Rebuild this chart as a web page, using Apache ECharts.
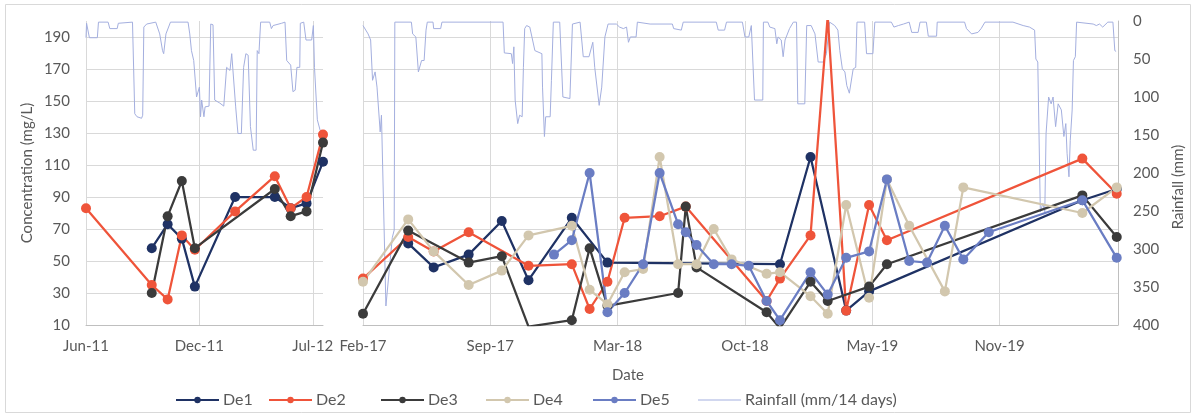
<!DOCTYPE html>
<html>
<head>
<meta charset="utf-8">
<script src="https://cdn.jsdelivr.net/npm/echarts@6/dist/echarts.min.js"></script>
<style>
  html, body { margin: 0; padding: 0; background: #ffffff; }
  #chart { width: 1195px; height: 416px; }
</style>
</head>
<body>
<div id="chart"></div>
<script>
// ---- Sampling campaign 1 (2011-2012) ----
const early_origin = '2011-06-10';
const early_dates = ['2011-06-10', '2011-10-04', '2011-11-01', '2011-11-26', '2011-12-19',
                     '2012-02-28', '2012-05-08', '2012-06-05', '2012-07-03', '2012-08-01'];
const early_De1 = [null, 58, 73, 64, 34, 90, 90, 83, 86, 112];
const early_De2 = [83, 35, 26, 66, 57, 81, 103, 83, 90, 129];
const early_De3 = [null, 30, 78, 100, 58, null, 95, 78, 81, 124];
const early_end = '2012-08-01';

// ---- Sampling campaign 2 (2017-2020) ----
const late_origin = '2017-02-22';
const late_dates = ['2017-02-22', '2017-05-04', '2017-06-13', '2017-08-07', '2017-09-28', '2017-11-09',
                    '2017-12-19', '2018-01-16', '2018-02-13', '2018-03-13', '2018-04-09', '2018-05-08',
                    '2018-06-03', '2018-07-02', '2018-07-14', '2018-07-31', '2018-08-27', '2018-09-24',
                    '2018-10-21', '2018-11-18', '2018-12-09', '2019-01-26', '2019-02-22', '2019-03-23',
                    '2019-04-28', '2019-05-26', '2019-06-30', '2019-07-28', '2019-08-25', '2019-09-23',
                    '2019-11-02', '2020-03-28', '2020-05-21'];
const late_De1 = [null, 61, 46, 54, 75, 38, null, 77, null, 49, null, null, null, null, null, null, null,
                  null, null, null, 48, 115, null, 19, 31, null, null, null, null, null, null, 88, 95];
const late_De2 = [39, 65, 56, 68, null, 47, null, 48, 20, 37, 77, null, 78, null, 84, null, null,
                  null, null, 25, 39, 66, 203, 19, 85, 63, null, null, null, null, null, 114, 92];
const late_De3 = [17, 69, null, 49, 53, 9, null, 13, 58, 22, null, null, null, 30, 84, 46, null,
                  null, null, 18, 8, 37, 25, null, 34, 48, null, null, null, null, null, 91, 65];
const late_De4 = [37, 76, 56, 35, 44, 66, null, 72, 32, 23, 43, 45, 115, 48, null, 48, 70,
                  51, null, 42, 43, 28, 17, 85, 27, 101, 72, null, 31, 96, null, 80, 96];
const late_De5 = [null, null, null, null, null, null, 54, 63, 105, 18, 30, 48, 105, 73, 68, 60, 48,
                  48, 47, 25, 13, 43, 29, 52, 56, 101, 50, 49, 72, 51, 68, 88, 52];
const late_end = '2020-05-23';

// ---- Rainfall, mm per 14 days: [days after campaign start, mm] ----
const rain_early = [[0,22],[1,3],[4,1.5],[6,22],[20,22],[22,1.5],[39,1.5],[42,10],[55,10],[57,3],
  [82,1.5],[85,4],[86,122],[90,126],[98,128],[100,124],[102,8],[107,4],[123,1.5],[126,4],
  [130,17],[135,39],[137,43],[141,17],[149,1.5],[180,1.5],[183,17],[186,39],[190,52],[195,100],
  [200,87],[202,126],[204,104],[208,126],[210,113],[217,112],[220,4],[224,5],[227,104],[236,108],
  [243,112],[248,61],[254,65],[257,43],[260,45],[264,113],[268,148],[274,148],[278,61],[282,43],
  [286,45],[290,139],[295,170],[300,170],[302,39],[305,43],[308,1.5],[324,1.5],[327,10],[330,6],
  [345,3],[351,1.5],[354,52],[361,58],[365,93],[369,91],[372,61],[377,61],[378,3],[384,1.5],
  [388,25],[398,25],[401,6],[403,61],[408,130],[413,144],[417,146]];
const rain_late = [[0,6],[8,17],[12,25],[15,78],[19,67],[22,87],[27,146],[29,124],[32,126],[36,375],
  [46,285],[49,275],[50,1.5],[76,1.5],[78,17],[83,21],[87,67],[89,65],[92,52],[96,52],
  [99,12],[101,1.5],[110,1.5],[111,10],[122,10],[124,1.5],[220,1.5],[222,42],[233,43],[235,56],
  [237,34],[239,104],[243,135],[246,124],[250,126],[252,61],[254,10],[257,6],[262,8],[265,6],
  [270,39],[281,43],[282,87],[285,152],[287,126],[294,126],[296,78],[299,1.5],[309,1.5],[314,100],
  [325,102],[329,4],[341,1.5],[346,47],[355,47],[361,28],[364,61],[371,111],[375,87],[380,21],
  [385,4],[398,4],[403,8],[409,10],[414,8],[417,28],[420,21],[429,21],[431,1.5],[451,4],
  [486,4],[488,10],[500,12],[503,1.5],[555,1.5],[558,12],[568,12],[571,1.5],[596,1.5],[600,21],
  [606,21],[610,6],[613,8],[615,104],[628,104],[629,1.5],[636,1.5],[639,8],[647,10],[650,30],
  [652,21],[657,25],[660,47],[663,25],[670,10],[676,1.5],[681,1.5],[683,109],[694,109],[697,6],
  [704,6],[710,17],[715,54],[723,54],[728,43],[733,1.5],[741,6],[746,12],[749,39],[753,63],
  [757,67],[760,85],[764,95],[767,95],[770,63],[774,61],[776,1.5],[788,1.5],[791,43],[801,43],
  [804,1.5],[830,1.5],[834,8],[841,6],[849,4],[858,1.5],[862,15],[872,15],[875,1.5],[885,1.5],
  [888,20],[901,20],[902,1.5],[945,1.5],[948,10],[956,17],[966,15],[971,10],[977,1.5],[1021,1.5],
  [1037,6],[1047,8],[1055,12],[1057,50],[1060,54],[1064,251],[1068,240],[1071,251],[1073,148],[1077,100],
  [1081,109],[1084,100],[1088,139],[1092,109],[1097,117],[1101,152],[1104,135],[1106,174],[1109,205],[1111,157],
  [1114,117],[1116,52],[1119,47],[1121,1.5],[1147,4],[1152,6],[1157,4],[1162,8],[1170,1.5],[1178,1.5],
  [1181,39],[1183,40]];

// ---- Axis ticks ----
const concTicks = { min: 10, max: 200, step: 20 };
const rainTicks = { min: 0, max: 400, step: 50 };
const dateStep = 200; // days between date labels

const MONTHS = ['Jan','Feb','Mar','Apr','May','Jun','Jul','Aug','Sep','Oct','Nov','Dec'];
const DAY = 86400000;
const dayOf = (iso, origin) => Math.round((Date.parse(iso) - Date.parse(origin)) / DAY);
const monthLabel = origin => v => {
  const d = new Date(Date.parse(origin) + v * DAY);
  return MONTHS[d.getUTCMonth()] + '-' + String(d.getUTCFullYear()).slice(2);
};
const pairs = (dates, vals, origin) => dates
  .map((s, i) => [dayOf(s, origin), vals[i]])
  .filter(p => p[1] !== null);

const FONT = 'Lato, "Open Sans", sans-serif';
const TXT = '#595959';
const GRID = '#d9d9d9';
const COLORS = { De1: '#1f3264', De2: '#ef543a', De3: '#3b3b3b', De4: '#d2c7ae', De5: '#6a7dc3', rain: '#a4afdf' };
const RAIN_NAME = 'Rainfall (mm/14 days)';

const chart = echarts.init(document.getElementById('chart'), null, { renderer: 'canvas' });

const grids = [
  { left: 86, top: 21, width: 237, height: 304 },
  { left: 363, top: 21, width: 755, height: 304 }
];

function xAxisFor(gi, origin, end) {
  return {
    type: 'value', gridIndex: gi, min: 0, max: dayOf(end, origin), interval: dateStep,
    axisLine: { show: true, onZero: false, lineStyle: { color: '#bfbfbf', width: 1 } },
    axisTick: { show: false },
    axisLabel: { formatter: monthLabel(origin), color: TXT, fontFamily: FONT, fontSize: 15,
                 margin: 14, showMaxLabel: false },
    splitLine: { show: true, showMaxLine: false, lineStyle: { color: GRID, width: 1 } }
  };
}

function concAxis(gi, showLabels) {
  return {
    type: 'value', gridIndex: gi, min: concTicks.min, max: concTicks.max, interval: concTicks.step / 2,
    axisLine: { show: false }, axisTick: { show: false },
    axisLabel: {
      show: showLabels, color: TXT, fontFamily: FONT, fontSize: 15, margin: 16,
      formatter: v => ((v - concTicks.min) % concTicks.step === 0 && v < concTicks.max) ? String(v) : ''
    },
    splitLine: { show: true, showMaxLine: false, lineStyle: { color: [GRID, 'rgba(0,0,0,0)'], width: 1 } }
  };
}

function rainAxis(gi, visible) {
  return {
    type: 'value', gridIndex: gi, position: 'right', inverse: true,
    min: rainTicks.min, max: rainTicks.max, interval: rainTicks.step,
    show: visible,
    axisLine: { show: true, lineStyle: { color: '#bfbfbf', width: 1 } },
    axisTick: { show: false },
    axisLabel: { color: TXT, fontFamily: FONT, fontSize: 15, margin: 15 },
    splitLine: { show: false }
  };
}

function deSeries(name, data, xi, yi) {
  return {
    name, type: 'line', xAxisIndex: xi, yAxisIndex: yi, data,
    symbol: 'circle', symbolSize: 10, clip: true, z: 3,
    lineStyle: { color: COLORS[name], width: 2.25 },
    itemStyle: { color: COLORS[name] },
    emphasis: { disabled: true }, animation: false
  };
}

function rainSeries(data, xi, yi) {
  return {
    name: RAIN_NAME, type: 'line', xAxisIndex: xi, yAxisIndex: yi, data,
    showSymbol: false, symbol: 'none', clip: true, z: 2,
    lineStyle: { color: COLORS.rain, width: 1 },
    itemStyle: { color: COLORS.rain },
    emphasis: { disabled: true }, animation: false
  };
}

const legendSpots = [['De1', 175], ['De2', 268], ['De3', 380], ['De4', 485], ['De5', 592], [RAIN_NAME, 698]];
const legends = legendSpots.map(([name, left]) => {
  const isRain = name === RAIN_NAME;
  return {
    data: [name], left, top: 392, padding: 0, itemWidth: 43, itemHeight: isRain ? 1 : 8,
    itemGap: 0, selectedMode: false,
    icon: isRain ? 'rect' : undefined,
    textStyle: { color: TXT, fontFamily: FONT, fontSize: 16, padding: [0, 0, 0, -1] }
  };
});

const series = [
  rainSeries(rain_early, 0, 1),
  rainSeries(rain_late, 1, 3),
  deSeries('De1', pairs(early_dates, early_De1, early_origin), 0, 0),
  deSeries('De2', pairs(early_dates, early_De2, early_origin), 0, 0),
  deSeries('De3', pairs(early_dates, early_De3, early_origin), 0, 0),
  deSeries('De1', pairs(late_dates, late_De1, late_origin), 1, 2),
  deSeries('De2', pairs(late_dates, late_De2, late_origin), 1, 2),
  deSeries('De3', pairs(late_dates, late_De3, late_origin), 1, 2),
  deSeries('De4', pairs(late_dates, late_De4, late_origin), 1, 2),
  deSeries('De5', pairs(late_dates, late_De5, late_origin), 1, 2)
];

chart.setOption({
  backgroundColor: '#ffffff',
  animation: false,
  grid: grids,
  xAxis: [xAxisFor(0, early_origin, early_end), xAxisFor(1, late_origin, late_end)],
  yAxis: [concAxis(0, true), rainAxis(0, false), concAxis(1, false), rainAxis(1, true)],
  legend: legends,
  series,
  graphic: [
    { type: 'rect', shape: { x: 5.5, y: 4.5, width: 1185, height: 408 }, silent: true,
      style: { fill: 'none', stroke: '#d9d9d9', lineWidth: 1 }, z: -10 },
    { type: 'text', x: 27, y: 173, rotation: Math.PI / 2, silent: true,
      style: { text: 'Concentration (mg/L)', fill: TXT, font: '15px ' + FONT, align: 'center', verticalAlign: 'middle' } },
    { type: 'text', x: 1178, y: 187, rotation: Math.PI / 2, silent: true,
      style: { text: 'Rainfall (mm)', fill: TXT, font: '15px ' + FONT, align: 'center', verticalAlign: 'middle' } },
    { type: 'text', x: 628, y: 375, silent: true,
      style: { text: 'Date', fill: TXT, font: '15px ' + FONT, align: 'center', verticalAlign: 'middle' } }
  ]
});
</script>
</body>
</html>
